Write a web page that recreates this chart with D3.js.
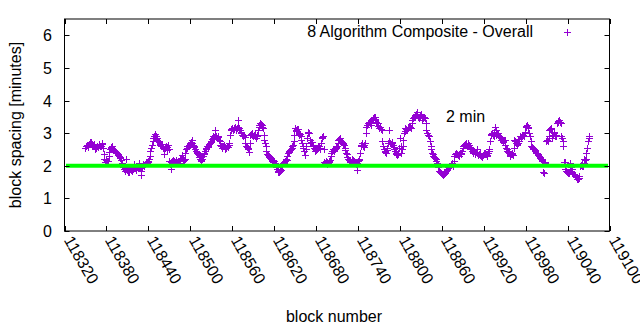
<!DOCTYPE html>
<html>
<head>
<meta charset="utf-8">
<script src="https://cdn.jsdelivr.net/npm/d3@7"></script>
<style>
  html, body { margin: 0; padding: 0; background: #fff; }
  svg { display: block; }
  text { font-family: "Liberation Sans", Arial, sans-serif; fill: #000; }
</style>
</head>
<body>
<svg id="chart" width="640" height="330"></svg>
<script>
// ---- data ----
// values on even blocks 118350, 118352, ... 119070
const evenStart = 118350;
const spacingEven = [
  2.55,2.65,2.6,2.7,2.74,2.62,2.68,2.5,2.62,2.58,
  2.66,2.6,2.68,2.35,2.12,2.2,2.15,2.42,2.55,2.6,
  2.5,2.45,2.4,2.35,2.3,2.25,2.1,1.95,1.85,2.2,
  1.88,1.8,1.92,1.85,1.9,2.05,1.88,1.95,2.1,1.92,
  1.72,2.05,1.98,2.1,2.08,2.15,2.3,2.55,2.75,2.9,
  2.96,2.85,2.75,2.68,2.6,2.62,2.35,2.55,2.48,2.65,
  2.15,1.9,2.15,2.1,2.12,2.18,2.15,2.1,2.2,2.33,
  2.15,2.2,2.5,2.6,2.65,2.7,2.79,2.65,2.58,2.45,
  2.4,2.33,2.22,2.15,2.3,2.4,2.5,2.6,2.62,2.7,
  2.75,2.9,2.88,3.1,2.85,2.9,2.75,2.6,2.55,2.65,
  2.5,2.62,2.58,2.7,3.1,3.15,3.12,3.18,3.1,3.4,
  3.15,3.05,2.95,2.9,2.88,2.6,2.55,2.42,2.95,3.0,
  2.9,2.98,2.85,2.95,3.2,3.3,3.25,3.15,2.8,2.6,
  2.35,2.3,2.25,2.2,2.12,2.15,2.05,1.9,1.82,1.85,
  1.88,2.1,2.12,2.15,2.18,2.38,2.45,2.5,2.6,2.75,
  3.15,3.1,3.12,2.95,2.9,2.7,2.55,2.33,2.6,3.05,
  3.0,2.7,2.72,2.6,2.5,2.48,2.55,2.6,2.5,2.85,
  2.9,2.12,2.15,2.05,2.12,2.18,2.4,2.5,2.45,2.55,
  2.6,2.8,2.85,2.75,2.7,2.64,2.48,2.35,2.2,2.15,
  2.12,2.2,2.15,2.1,1.87,2.15,2.2,2.6,2.69,2.58,
  2.7,3.2,3.3,3.35,3.25,3.4,3.45,3.5,3.35,3.3,
  3.15,3.2,3.1,2.6,2.45,2.4,2.55,3.1,2.7,2.72,
  2.65,2.5,2.4,2.33,2.38,2.85,2.4,2.6,3.0,3.15,
  3.1,3.18,3.2,3.15,3.4,3.5,3.55,3.65,3.5,3.45,
  3.6,3.4,3.5,3.45,3.1,2.95,2.9,2.6,2.4,2.3,
  2.25,2.15,2.05,1.85,1.8,1.75,1.72,1.78,1.85,1.9,
  2.0,1.95,2.1,2.0,2.3,2.38,2.35,2.3,2.4,2.35,
  2.55,2.65,2.69,2.6,2.7,2.58,2.5,2.4,2.45,2.35,
  2.5,2.33,2.38,2.3,2.28,2.35,2.4,2.3,2.38,2.5,
  2.95,3.0,2.9,3.2,2.95,3.0,2.9,2.85,2.78,2.74,
  2.8,2.55,2.45,2.38,2.3,2.4,2.33,2.8,2.7,2.64,
  2.75,2.9,2.85,2.95,2.9,3.2,3.25,3.15,2.9,2.6,
  2.55,2.5,2.45,2.38,2.33,2.28,2.2,2.15,1.77,2.12,
  2.8,2.75,3.1,3.15,2.85,3.05,2.9,2.95,3.35,3.4,
  3.3,2.85,2.6,2.12,1.85,1.8,1.77,2.1,1.9,1.75,
  1.72,1.65,1.58,1.62,2.0,2.05,1.98,2.2,2.2,2.55,
  2.85
];
// values on odd blocks 118351, 118353, ... 119071
const oddStart = 118351;
const spacingOdd = [
  2.62,2.58,2.66,2.72,2.68,2.64,2.58,2.56,2.6,2.64,
  2.62,2.7,2.55,2.22,2.18,2.14,2.3,2.5,2.58,2.52,
  2.48,2.42,2.38,2.32,2.28,2.18,2.02,1.9,1.92,1.95,
  1.82,1.86,1.88,1.9,1.95,1.92,1.9,2.0,1.96,1.85,
  1.95,2.02,2.05,2.12,2.12,2.2,2.45,2.65,2.85,2.92,
  2.9,2.8,2.72,2.64,2.66,2.55,2.5,2.6,2.58,2.52,
  2.05,2.12,2.18,2.14,2.16,2.12,2.14,2.18,2.25,2.22,
  2.18,2.4,2.55,2.62,2.68,2.74,2.7,2.6,2.52,2.42,
  2.36,2.28,2.18,2.2,2.35,2.45,2.55,2.58,2.66,2.72,
  2.82,2.85,2.95,2.92,2.88,2.8,2.65,2.62,2.6,2.58,
  2.56,2.6,2.65,2.95,3.12,3.1,3.15,3.12,3.15,3.18,
  3.1,3.0,2.92,2.95,2.7,2.58,2.5,2.7,2.98,2.95,
  2.95,2.9,2.92,3.1,3.25,3.28,3.2,2.95,2.7,2.45,
  2.32,2.28,2.22,2.15,2.18,2.1,1.95,1.85,1.8,1.9,
  2.0,2.08,2.14,2.2,2.3,2.42,2.48,2.55,2.65,2.95,
  3.08,3.14,3.0,2.98,2.8,2.62,2.45,2.5,2.85,3.0,
  2.78,2.74,2.65,2.55,2.45,2.52,2.62,2.55,2.7,2.88,
  2.5,2.1,2.12,2.08,2.15,2.3,2.45,2.48,2.5,2.58,
  2.7,2.82,2.8,2.72,2.66,2.55,2.4,2.28,2.18,2.12,
  2.15,2.18,2.12,2.05,2.1,2.18,2.4,2.65,2.62,2.65,
  3.0,3.25,3.32,3.3,3.35,3.42,3.48,3.42,3.32,3.22,
  3.18,3.12,2.75,2.5,2.42,2.48,2.7,2.75,2.68,2.7,
  2.58,2.45,2.36,2.35,2.55,2.6,2.5,2.8,3.08,3.12,
  3.15,3.2,3.18,3.3,3.45,3.52,3.6,3.55,3.48,3.52,
  3.5,3.45,3.48,3.3,3.0,2.92,2.75,2.5,2.35,2.28,
  2.2,2.1,1.95,1.82,1.78,1.74,1.75,1.8,1.88,1.95,
  1.98,2.02,2.05,2.15,2.35,2.36,2.32,2.35,2.38,2.45,
  2.6,2.68,2.64,2.65,2.64,2.55,2.45,2.42,2.4,2.42,
  2.4,2.36,2.34,2.29,2.32,2.38,2.35,2.34,2.45,2.75,
  2.98,2.95,3.05,3.1,2.98,2.95,2.88,2.8,2.76,2.78,
  2.65,2.5,2.42,2.34,2.35,2.36,2.55,2.75,2.66,2.7,
  2.82,2.88,2.9,2.92,3.05,3.22,3.2,3.0,2.75,2.58,
  2.52,2.48,2.4,2.35,2.3,2.24,2.18,1.8,2.1,2.75,
  2.78,2.9,3.12,3.05,2.95,3.0,2.92,3.3,3.38,3.35,
  2.9,2.75,2.12,1.9,1.82,1.78,1.85,1.95,1.8,1.74,
  1.68,1.6,1.6,1.7,2.02,2.0,2.1,2.18,2.4,2.75,
  2.9
];
const xTicks = [118320,118380,118440,118500,118560,118620,118680,118740,118800,118860,118920,118980,119040,119100];
const yTicks = [0,1,2,3,4,5,6];
const targetValue = 2;
const targetLabel = "2 min";
const seriesName = "8 Algorithm Composite - Overall";
const xTitle = "block number";
const yTitle = "block spacing [minutes]";

// table built from the arrays above (block number index is consecutive)
const points = [
  ...spacingEven.map((v, i) => ({ block: evenStart + 2 * i, value: v })),
  ...spacingOdd.map((v, i) => ({ block: oddStart + 2 * i, value: v }))
].sort((a, b) => a.block - b.block);

// ---- layout ----
const L = 64.5, R = 609.5, T = 19, B = 231;
const svg = d3.select("#chart");
const x = d3.scaleLinear().domain([118320, 119100]).range([L, R]);
const y = d3.scaleLinear().domain([0, 6.5]).range([B, T]);
const purple = "#9400d3";
const tick = 5;

const plusPath = (cx, cy) => `M${cx-3.5},${cy}H${cx+3.5}M${cx},${cy-3.5}V${cy+3.5}`;

// points
svg.append("g").selectAll("path").data(points).join("path")
  .attr("d", d => plusPath(Math.round(x(d.block)) + 0.5, Math.round(y(d.value)) + 0.5))
  .attr("stroke", purple).attr("stroke-width", 1).attr("fill", "none");

// 2-min line
svg.append("line")
  .attr("x1", L + 1.5).attr("x2", R - 1.5)
  .attr("y1", y(targetValue)).attr("y2", y(targetValue))
  .attr("stroke", "#00ff00").attr("stroke-width", 4);

// frame
svg.append("rect").attr("x", L).attr("y", T).attr("width", R - L).attr("height", B - T)
  .attr("fill", "none").attr("stroke", "#000").attr("stroke-width", 1);

// y ticks
const gy = svg.append("g");
yTicks.forEach(v => {
  const yy = Math.round(y(v)) + 0.5;
  gy.append("path").attr("d", `M${L},${yy}h${tick}M${R},${yy}h${-tick}`).attr("stroke", "#000");
  gy.append("text").attr("x", 52).attr("y", yy).attr("dy", "0.36em")
    .attr("text-anchor", "end").attr("font-size", 16).text(v);
});

// x ticks
const gx = svg.append("g");
xTicks.forEach(v => {
  const xx = Math.round(x(v)) + 0.5;
  gx.append("path").attr("d", `M${xx},${B}v${-tick}M${xx},${T}v${tick}`).attr("stroke", "#000");
  gx.append("text")
    .attr("transform", `translate(${xx - 2},${B + 9}) rotate(60)`)
    .attr("text-anchor", "start").attr("font-size", 16).text(v);
});

// titles
svg.append("text").attr("x", 334).attr("y", 322).attr("text-anchor", "middle")
  .attr("font-size", 16).text(xTitle);
svg.append("text").attr("transform", `translate(21,125) rotate(-90)`)
  .attr("text-anchor", "middle").attr("font-size", 16).text(yTitle);

// legend
svg.append("text").attr("x", 533).attr("y", 37).attr("text-anchor", "end")
  .attr("font-size", 16).text(seriesName);
svg.append("path").attr("d", plusPath(567.5, 32.5))
  .attr("stroke", purple).attr("stroke-width", 1).attr("fill", "none");

// line label
svg.append("text").attr("x", 446).attr("y", 122).attr("font-size", 16).text(targetLabel);
</script>
</body>
</html>
